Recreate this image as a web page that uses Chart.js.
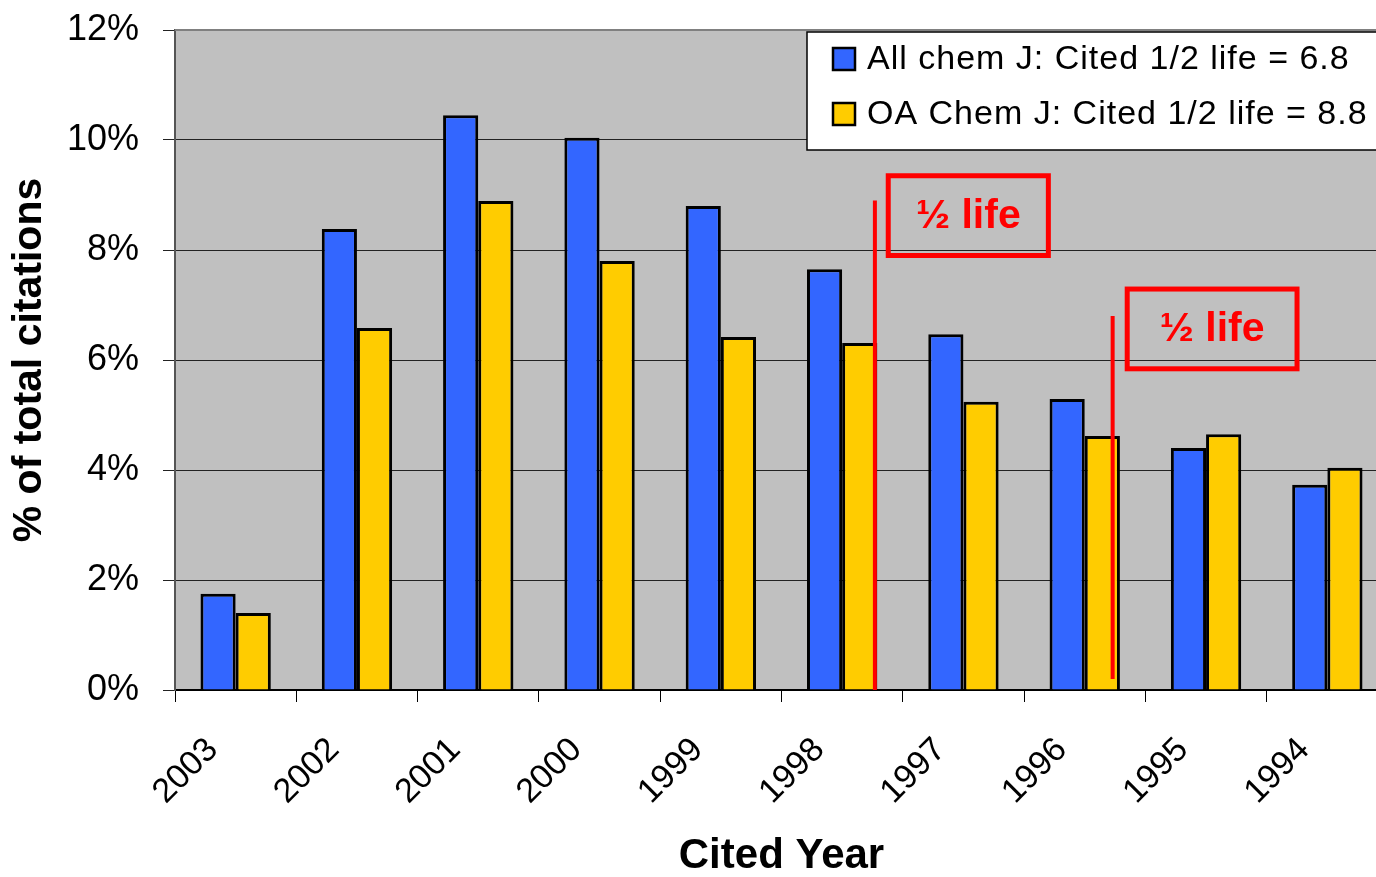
<!DOCTYPE html>
<html lang="en">
<head>
<meta charset="utf-8">
<title>Cited Year - % of total citations</title>
<script src="https://cdn.jsdelivr.net/npm/chart.js"></script>
<style>
  html, body { margin: 0; padding: 0; background: #fff; overflow: hidden; }
  #wrap { width: 1390px; height: 877px; }
</style>
</head>
<body>
<div id="wrap"><canvas id="citeChart"></canvas></div>
<script>
// data
const years = ['2003', '2002', '2001', '2000', '1999', '1998', '1997', '1996', '1995', '1994'];
const allChem = [1.75, 8.38, 10.45, 10.04, 8.80, 7.65, 6.47, 5.29, 4.40, 3.73];
const oaChem = [1.40, 6.58, 8.89, 7.80, 6.42, 6.31, 5.24, 4.62, 4.65, 4.04];
const seriesNames = ['All chem J: Cited 1/2 life = 6.8', 'OA Chem J: Cited 1/2 life = 8.8'];
const seriesColors = ['#3366FF', '#FFCC00'];

// "1/2 life" markers, in category index / percent units
const halfLines = [
  { x: 5.27, from: 0, to: 8.9 },
  { x: 7.23, from: 0.2, to: 6.8 }
];
const halfBoxes = [
  { x0: 5.38, x1: 6.70, y0: 7.9, y1: 9.35, text: '½ life' },
  { x0: 7.35, x1: 8.75, y0: 5.84, y1: 7.29, text: '½ life' }
];

const FONT = '"Liberation Sans", Arial, sans-serif';

const plotBackground = {
  id: 'plotBackground',
  beforeDraw(chart) {
    const { ctx, chartArea: a } = chart;
    ctx.save();
    ctx.fillStyle = '#C0C0C0';
    ctx.fillRect(a.left, a.top, a.right - a.left, a.bottom - a.top);
    ctx.restore();
  },
  beforeDatasetsDraw(chart) {
    const { ctx, chartArea: a } = chart;
    ctx.save();
    ctx.strokeStyle = '#808080';
    ctx.lineWidth = 2;
    ctx.beginPath();
    ctx.moveTo(a.left, a.top);
    ctx.lineTo(a.right, a.top);
    ctx.lineTo(a.right, a.bottom);
    ctx.stroke();
    ctx.restore();
  }
};

const halfLifeMarks = {
  id: 'halfLifeMarks',
  afterDatasetsDraw(chart) {
    const { ctx } = chart;
    const xs = chart.scales.x, ys = chart.scales.y;
    ctx.save();
    ctx.strokeStyle = '#FF0000';
    ctx.lineWidth = 4;
    halfLines.forEach(l => {
      const px = xs.getPixelForValue(l.x);
      ctx.beginPath();
      ctx.moveTo(px, ys.getPixelForValue(l.from));
      ctx.lineTo(px, ys.getPixelForValue(l.to));
      ctx.stroke();
    });
    ctx.lineWidth = 5;
    ctx.fillStyle = '#FF0000';
    ctx.font = 'bold 41px ' + FONT;
    ctx.textAlign = 'center';
    ctx.textBaseline = 'middle';
    halfBoxes.forEach(b => {
      const l = xs.getPixelForValue(b.x0), r = xs.getPixelForValue(b.x1);
      const t = ys.getPixelForValue(b.y1), btm = ys.getPixelForValue(b.y0);
      ctx.strokeRect(l, t, r - l, btm - t);
      ctx.fillText(b.text, (l + r) / 2, (t + btm) / 2 + 1);
    });
    ctx.restore();
  }
};

const boxLegend = {
  id: 'boxLegend',
  afterDraw(chart) {
    const { ctx, chartArea: a } = chart;
    const left = a.left + 632, top = a.top + 2, height = 118;
    ctx.save();
    ctx.fillStyle = '#fff';
    ctx.fillRect(left, top, a.right + 10 - left, height);
    ctx.strokeStyle = '#000';
    ctx.lineWidth = 1.5;
    ctx.strokeRect(left, top, a.right + 10 - left, height);
    ctx.font = '34px ' + FONT;
    ctx.letterSpacing = '1px';
    ctx.textBaseline = 'middle';
    ctx.textAlign = 'left';
    chart.data.datasets.forEach((ds, i) => {
      const cy = top + 27 + i * 55;
      ctx.fillStyle = ds.backgroundColor;
      ctx.fillRect(left + 26, cy - 11, 22, 22);
      ctx.lineWidth = 2.5;
      ctx.strokeStyle = '#000';
      ctx.strokeRect(left + 26, cy - 11, 22, 22);
      ctx.fillStyle = '#000';
      ctx.fillText(ds.label, left + 60, cy + 1);
    });
    ctx.restore();
  }
};

const ctx = document.getElementById('citeChart').getContext('2d');
new Chart(ctx, {
  type: 'bar',
  data: {
    labels: years,
    datasets: [
      {
        label: seriesNames[0],
        data: allChem,
        backgroundColor: seriesColors[0],
        borderColor: '#000',
        borderWidth: 3,
        categoryPercentage: 0.58,
        barPercentage: 1.0
      },
      {
        label: seriesNames[1],
        data: oaChem,
        backgroundColor: seriesColors[1],
        borderColor: '#000',
        borderWidth: 3,
        categoryPercentage: 0.58,
        barPercentage: 1.0
      }
    ]
  },
  options: {
    responsive: true,
    maintainAspectRatio: false,
    animation: false,
    layout: { padding: { top: 30, right: 2, left: 0, bottom: 0 } },
    plugins: {
      legend: { display: false },
      tooltip: { enabled: false }
    },
    scales: {
      x: {
        offset: true,
        afterFit(scale) { scale.height = 187; },
        grid: {
          display: true,
          offset: true,
          drawOnChartArea: false,
          drawTicks: true,
          tickLength: 12,
          color: '#000',
          lineWidth: 1
        },
        border: { display: true, color: '#000', width: 2 },
        ticks: {
          color: '#000',
          font: { family: FONT, size: 34 },
          minRotation: 45,
          maxRotation: 45,
          autoSkip: false,
          padding: 28,
          labelOffset: -23
        },
        title: {
          display: true,
          text: 'Cited Year',
          color: '#000',
          font: { family: FONT, size: 42, weight: 'bold', lineHeight: 1 },
          padding: { top: 0, bottom: 0 }
        }
      },
      y: {
        min: 0,
        max: 12,
        afterFit(scale) {
          scale.width = 175;
          scale.paddingTop = 0;
          scale.paddingBottom = 0;
        },
        grid: {
          color: '#222',
          lineWidth: 1,
          drawTicks: true,
          tickLength: 12
        },
        border: { display: true, color: '#555', width: 2 },
        ticks: {
          stepSize: 2,
          color: '#000',
          font: { family: FONT, size: 36 },
          padding: 24,
          callback: v => v + '%'
        },
        title: {
          display: true,
          text: '% of total citations',
          color: '#000',
          font: { family: FONT, size: 41, weight: 'bold', lineHeight: 1.2 },
          padding: { top: 5, bottom: 0 }
        }
      }
    }
  },
  plugins: [plotBackground, halfLifeMarks, boxLegend]
});
</script>
</body>
</html>
